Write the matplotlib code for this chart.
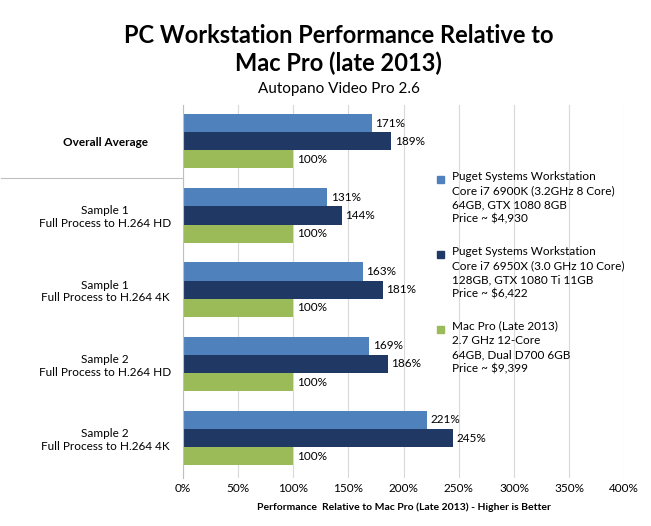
import matplotlib
matplotlib.use("Agg")
import matplotlib.pyplot as plt
import numpy as np
from matplotlib.lines import Line2D
from matplotlib.patches import Rectangle

plt.rcParams['font.family'] = ['Lato', 'DejaVu Sans']

categorias = ["Overall Average", "Sample 1\nFull Process to H.264 HD", "Sample 1\nFull Process to H.264 4K",
              "Sample 2\nFull Process to H.264 HD", "Sample 2\nFull Process to H.264 4K"]
puget_6900k = [171, 131, 163, 169, 221]
puget_6950x = [189, 144, 181, 186, 245]
mac_pro = [100, 100, 100, 100, 100]
series_nombres = ["Puget Systems Workstation\nCore i7 6900K (3.2GHz 8 Core)\n64GB, GTX 1080 8GB\nPrice ~ $4,930",
                  "Puget Systems Workstation\nCore i7 6950X (3.0 GHz 10 Core)\n128GB, GTX 1080 Ti 11GB\nPrice ~ $6,422",
                  "Mac Pro (Late 2013)\n2.7 GHz 12-Core\n64GB, Dual D700 6GB\nPrice ~ $9,399"]
colores = ["#4F81BD", "#1F3864", "#9BBB59"]
ticks_x = [0, 50, 100, 150, 200, 250, 300, 350, 400]

fig = plt.figure(figsize=(6.51, 5.26), dpi=100)
ax = fig.add_axes([0.281, 0.091, 0.678, 0.709])

y = np.arange(len(categorias))
alto = 0.245
for k, (vals, col) in enumerate(zip([puget_6900k, puget_6950x, mac_pro], colores)):
    ax.barh(y + (k - 1) * alto, vals, height=alto, color=col, zorder=2)
    for yi, v in zip(y + (k - 1) * alto, vals):
        ax.text(v + 3, yi, f"{v}%", va='center', ha='left', fontsize=8.5)

ax.set_xlim(0, 400)
ax.set_ylim(4.54, -0.485)
ax.set_xticks(ticks_x)
ax.set_xticklabels([f"{t}%" for t in ticks_x], fontsize=8.5)
ax.set_yticks(y)
ax.set_yticklabels(categorias, fontsize=8.5, ha='center')
ax.tick_params(axis='y', length=0, pad=56)
ax.tick_params(axis='x', length=0)
ax.get_yticklabels()[0].set_fontweight('bold')
ax.grid(axis='x', color='#D9D9D9', linewidth=0.8, zorder=0)
for s in ['top', 'right', 'bottom']:
    ax.spines[s].set_visible(False)
ax.spines['left'].set_color('#BFBFBF')
ax.set_xlabel("Performance  Relative to Mac Pro (Late 2013) - Higher is Better", fontsize=7.5, fontweight='bold', labelpad=6)

# separador
ax.add_line(Line2D([-0.28 / 0.678 * 400, 0], [0.5, 0.5], color='#BFBFBF', linewidth=0.8, clip_on=False))

# leyenda manual, cuadrito alineado con la primera linea
y_leyenda = [1 - 177 / 526, 1 - 252 / 526, 1 - 327 / 526]
for nombre, col, yl in zip(series_nombres, colores, y_leyenda):
    fig.patches.append(Rectangle((437 / 651, yl - 0.011), 7 / 651, 7 / 526, color=col, transform=fig.transFigure))
    fig.text(452 / 651, yl + 0.012, nombre, fontsize=8.5, va='top', ha='left', linespacing=1.35)

fig.text(0.52, 0.955, "PC Workstation Performance Relative to\nMac Pro (late 2013)", ha='center', va='top',
         fontsize=17, fontweight='bold', linespacing=1.25)
fig.text(0.52, 0.845, "Autopano Video Pro 2.6", ha='center', va='top', fontsize=11)

fig.savefig("out.png", dpi=100)
